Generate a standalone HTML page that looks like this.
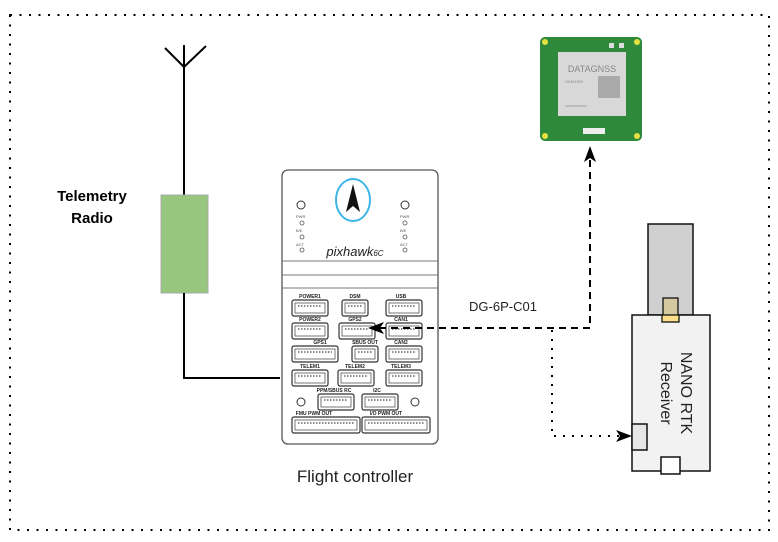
<!DOCTYPE html>
<html><head><style>
html,body{margin:0;padding:0;background:#fff;}
svg{display:block;font-family:"Liberation Sans",sans-serif;}
</style></head><body>
<svg width="778" height="542" viewBox="0 0 778 542" xmlns="http://www.w3.org/2000/svg">
<defs>
<g id="conn">
<rect x="0" y="0" width="36" height="16" rx="2" fill="#fff" stroke="#333" stroke-width="1.2"/>
<rect x="3" y="3" width="30" height="10" fill="none" stroke="#555" stroke-width="0.8"/>
<line x1="6" y1="6" x2="30" y2="6" stroke="#444" stroke-width="1.2" stroke-dasharray="1.5 1.5"/>
</g>
<g id="connS">
<rect x="0" y="0" width="26" height="16" rx="2" fill="#fff" stroke="#333" stroke-width="1.2"/>
<rect x="3" y="3" width="20" height="10" fill="none" stroke="#555" stroke-width="0.8"/>
<line x1="6" y1="6" x2="20" y2="6" stroke="#444" stroke-width="1.2" stroke-dasharray="1.5 1.5"/>
</g>
<g id="connW">
<rect x="0" y="0" width="46" height="16" rx="2" fill="#fff" stroke="#333" stroke-width="1.2"/>
<rect x="3" y="3" width="40" height="10" fill="none" stroke="#555" stroke-width="0.8"/>
<line x1="6" y1="6" x2="40" y2="6" stroke="#444" stroke-width="1.2" stroke-dasharray="1.5 1.5"/>
</g>
<g id="connXW">
<rect x="0" y="0" width="68" height="16" rx="2" fill="#fff" stroke="#333" stroke-width="1.2"/>
<rect x="3" y="3" width="62" height="10" fill="none" stroke="#555" stroke-width="0.8"/>
<line x1="6" y1="6" x2="62" y2="6" stroke="#444" stroke-width="1.2" stroke-dasharray="1.5 1.5"/>
</g>
</defs>
<!-- border -->
<rect x="10" y="15" width="759" height="515" fill="none" stroke="#000" stroke-width="2" stroke-dasharray="2 7.5"/>

<!-- telemetry antenna -->
<line x1="184" y1="45" x2="184" y2="195" stroke="#000" stroke-width="2"/>
<polyline points="165,48 184,67 206,46" fill="none" stroke="#000" stroke-width="2"/>
<rect x="161" y="195" width="47" height="98" fill="#97c77e" stroke="#aaa" stroke-width="1"/>
<polyline points="184,293 184,378 280,378" fill="none" stroke="#000" stroke-width="2"/>
<text x="92" y="201" font-size="15" font-weight="bold" text-anchor="middle">Telemetry</text>
<text x="92" y="223" font-size="15" font-weight="bold" text-anchor="middle">Radio</text>

<!-- pixhawk -->
<rect x="282" y="170" width="156" height="274" rx="6" fill="#fff" stroke="#555" stroke-width="1.3"/>
<line x1="282" y1="261" x2="438" y2="261" stroke="#777"/>
<line x1="282" y1="275" x2="438" y2="275" stroke="#777"/>
<line x1="282" y1="288" x2="438" y2="288" stroke="#777"/>
<ellipse cx="353" cy="200" rx="17" ry="21" fill="none" stroke="#3fb6e8" stroke-width="2"/>
<polygon points="353,184 346,212 353,206 360,212" fill="#111"/>
<circle cx="301" cy="205" r="4" fill="none" stroke="#333"/>
<circle cx="405" cy="205" r="4" fill="none" stroke="#333"/>
<g font-size="4" fill="#555"><text x="296" y="218">PWR</text><text x="296" y="232">B/E</text><text x="296" y="246">ACT</text>
<text x="400" y="218">PWR</text><text x="400" y="232">B/E</text><text x="400" y="246">ACT</text></g>
<g fill="none" stroke="#555" stroke-width="0.8"><circle cx="302" cy="223" r="2"/><circle cx="302" cy="237" r="2"/><circle cx="302" cy="250" r="2"/>
<circle cx="405" cy="223" r="2"/><circle cx="405" cy="237" r="2"/><circle cx="405" cy="250" r="2"/></g>
<text x="355" y="256" font-size="13" font-style="italic" text-anchor="middle" fill="#222">pixhawk<tspan font-size="8">6C</tspan></text>
<g font-size="5" font-weight="bold" fill="#222" text-anchor="middle">
<text x="310" y="298">POWER1</text><text x="355" y="298">DSM</text><text x="401" y="298">USB</text>
<text x="310" y="321">POWER2</text><text x="355" y="321">GPS2</text><text x="401" y="321">CAN1</text>
<text x="320" y="344">GPS1</text><text x="365" y="344">SBUS OUT</text><text x="401" y="344">CAN2</text>
<text x="310" y="368">TELEM1</text><text x="355" y="368">TELEM2</text><text x="401" y="368">TELEM3</text>
<text x="334" y="392">PPM/SBUS RC</text><text x="377" y="392">I2C</text>
<text x="314" y="415">FMU PWM OUT</text><text x="386" y="415">I/O PWM OUT</text></g>
<use href="#conn" x="292" y="300"/><use href="#connS" x="342" y="300"/><use href="#conn" x="386" y="300"/>
<use href="#conn" x="292" y="323"/><use href="#conn" x="339" y="323"/><use href="#conn" x="386" y="323"/>
<use href="#connW" x="292" y="346"/><use href="#connS" x="352" y="346"/><use href="#conn" x="386" y="346"/>
<use href="#conn" x="292" y="370"/><use href="#conn" x="338" y="370"/><use href="#conn" x="386" y="370"/>
<use href="#conn" x="318" y="394"/><use href="#conn" x="362" y="394"/>
<use href="#connXW" x="292" y="417"/><use href="#connXW" x="362" y="417"/>
<circle cx="301" cy="402" r="4" fill="none" stroke="#333"/><circle cx="415" cy="402" r="4" fill="none" stroke="#333"/>
<text x="355" y="482" font-size="17" text-anchor="middle" fill="#222">Flight controller</text>

<!-- connectors -->
<polyline points="590,160 590,328 372,328" fill="none" stroke="#000" stroke-width="2" stroke-dasharray="7 5"/>
<polygon points="368,328 384,322 380,328 384,334" fill="#000"/>
<polygon points="590,146 584,162 590,158 596,162" fill="#000"/>
<polyline points="552,330 552,436 620,436" fill="none" stroke="#000" stroke-width="2" stroke-dasharray="2 7"/>
<polygon points="632,436 616,430 620,436 616,442" fill="#000"/>
<text x="503" y="311" font-size="13" text-anchor="middle" fill="#222">DG-6P-C01</text>

<!-- GNSS board -->
<rect x="540" y="37" width="102" height="104" rx="5" fill="#2e8a3a"/>
<circle cx="545" cy="42" r="3" fill="#e8e040"/><circle cx="637" cy="42" r="3" fill="#e8e040"/>
<circle cx="545" cy="136" r="3" fill="#e8e040"/><circle cx="637" cy="136" r="3" fill="#e8e040"/>
<rect x="558" y="52" width="68" height="64" fill="#d8d8d8"/>
<rect x="609" y="43" width="5" height="5" fill="#ddd"/><rect x="619" y="43" width="5" height="5" fill="#ddd"/>
<text x="592" y="72" font-size="9" text-anchor="middle" fill="#888">DATAGNSS</text>
<text x="565" y="83" font-size="4" fill="#888">GEM1305</text>
<rect x="598" y="76" width="22" height="22" fill="#aaa"/>
<text x="565" y="107" font-size="3" fill="#888">1305241000000</text>
<rect x="583" y="128" width="22" height="6" fill="#eee"/>

<!-- NANO RTK -->
<rect x="648" y="224" width="45" height="91" fill="#d0d0d0" stroke="#111" stroke-width="1.5"/>
<rect x="632" y="315" width="78" height="156" fill="#f2f2f2" stroke="#111" stroke-width="1.5"/>
<rect x="663" y="298" width="15" height="20" fill="#d6c89e" stroke="#111" stroke-width="1.3"/>
<rect x="662" y="315" width="17" height="7" fill="#ffe08a" stroke="#111" stroke-width="1.3"/>
<rect x="632" y="424" width="15" height="26" fill="#e6e6e6" stroke="#111" stroke-width="1.5"/>
<rect x="661" y="457" width="19" height="17" fill="#fff" stroke="#111" stroke-width="1.5"/>
<g transform="translate(671,393) rotate(90)" font-size="16" fill="#222" text-anchor="middle">
<text x="0" y="-10">NANO RTK</text><text x="0" y="10">Receiver</text></g>
</svg>
</body></html>
